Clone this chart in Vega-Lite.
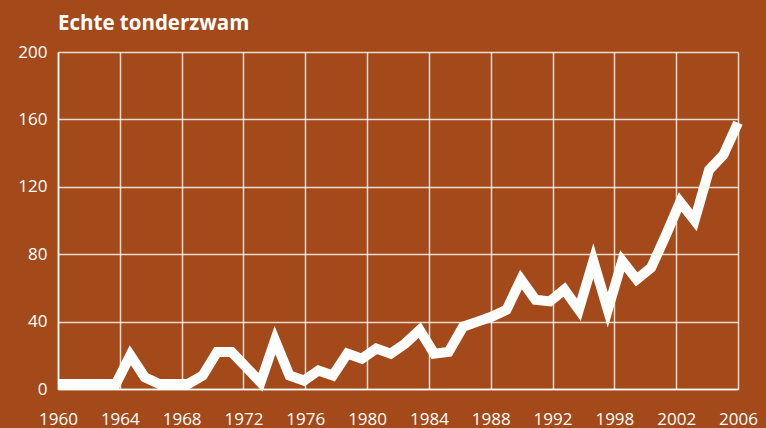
{
  "$schema": "https://vega.github.io/schema/vega-lite/v6.json",
  "autosize": "none",
  "width": 680,
  "height": 337,
  "padding": {"left": 58, "top": 52, "right": 28, "bottom": 39},
  "background": "#A44A1A",
  "title": {
    "text": "Echte tonderzwam",
    "anchor": "start",
    "frame": "group",
    "baseline": "alphabetic",
    "offset": 14,
    "dy": 21,
    "font": "Open Sans",
    "fontSize": 20.5,
    "fontWeight": "bold",
    "color": "#ffffff"
  },
  "config": {
    "view": {"stroke": null},
    "axis": {
      "labelFont": "Open Sans",
      "labelFontSize": 17,
      "labelColor": "#ffffff",
      "ticks": false,
      "grid": true,
      "gridColor": "#ffffff",
      "gridOpacity": 0.8,
      "gridWidth": 1.5,
      "domainColor": "#ffffff",
      "domainWidth": 1.5,
      "title": null
    }
  },
  "data": {
    "values": [
      {"year": 1960, "value": 3}, {"year": 1961, "value": 3}, {"year": 1962, "value": 3},
      {"year": 1963, "value": 3}, {"year": 1964, "value": 3}, {"year": 1965, "value": 20},
      {"year": 1966, "value": 7}, {"year": 1967, "value": 3}, {"year": 1968, "value": 3},
      {"year": 1969, "value": 3}, {"year": 1970, "value": 8}, {"year": 1971, "value": 22},
      {"year": 1972, "value": 22}, {"year": 1973, "value": 13}, {"year": 1974, "value": 4},
      {"year": 1975, "value": 29}, {"year": 1976, "value": 8}, {"year": 1977, "value": 5},
      {"year": 1978, "value": 11}, {"year": 1979, "value": 8}, {"year": 1980, "value": 21},
      {"year": 1981, "value": 18}, {"year": 1982, "value": 24}, {"year": 1983, "value": 21},
      {"year": 1984, "value": 27}, {"year": 1985, "value": 35}, {"year": 1986, "value": 21},
      {"year": 1987, "value": 22}, {"year": 1988, "value": 37}, {"year": 1989, "value": 40},
      {"year": 1990, "value": 43}, {"year": 1991, "value": 47}, {"year": 1992, "value": 65},
      {"year": 1993, "value": 53}, {"year": 1994, "value": 52}, {"year": 1995, "value": 59},
      {"year": 1996, "value": 47}, {"year": 1997, "value": 76}, {"year": 1998, "value": 47},
      {"year": 1999, "value": 76}, {"year": 2000, "value": 65}, {"year": 2001, "value": 72},
      {"year": 2002, "value": 91}, {"year": 2003, "value": 111}, {"year": 2004, "value": 100},
      {"year": 2005, "value": 130}, {"year": 2006, "value": 139}, {"year": 2007, "value": 158}
    ]
  },
  "mark": {
    "type": "line",
    "color": "#ffffff",
    "strokeWidth": 10,
    "strokeJoin": "miter",
    "strokeCap": "butt",
    "strokeMiterLimit": 10,
    "clip": false
  },
  "encoding": {
    "x": {
      "field": "year",
      "type": "quantitative",
      "scale": {"domain": [1960, 2007], "nice": false, "zero": false},
      "axis": {
        "values": [1960, 1964.2727, 1968.5455, 1972.8182, 1977.0909, 1981.3636, 1985.6364, 1989.9091, 1994.1818, 1998.4545, 2002.7273, 2007],
        "labelExpr": "['1960','1964','1968','1972','1976','1980','1984','1988','1992','1998','2002','2006'][round((datum.value-1960)*11/47)]",
        "labelPadding": 22,
        "labelFlush": false,
        "labelOverlap": false
      }
    },
    "y": {
      "field": "value",
      "type": "quantitative",
      "scale": {"domain": [0, 200], "nice": false},
      "axis": {
        "values": [0, 40, 80, 120, 160, 200],
        "labelPadding": 11
      }
    }
  }
}
